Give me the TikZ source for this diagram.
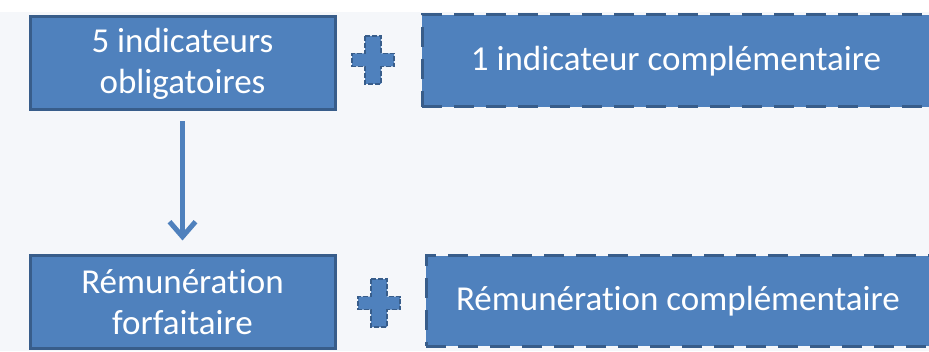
\documentclass[tikz,border=0pt]{standalone}
\usepackage{fontspec}
\setmainfont{Carlito}[Ligatures=NoCommon]
\usetikzlibrary{arrows.meta}
\definecolor{boxfill}{HTML}{4F81BD}
\definecolor{boxline}{HTML}{385D8A}
\definecolor{bg}{HTML}{F5F7FA}
\tikzset{
  solidbox/.style={draw=boxline, fill=boxfill, line width=3pt, text=white, align=center, inner sep=0pt, font=\fontsize{35}{41}\selectfont},
  dashbox/.style={solidbox, dash pattern=on 20pt off 12pt},
  plussign/.style={draw=boxline, fill=boxfill, line width=1.5pt, dash pattern=on 5pt off 2pt},
  flow/.style={draw=boxfill, line width=4.5pt, -{Straight Barb[length=15pt,width=26pt,line width=5pt]}}
}
\begin{document}
\begin{tikzpicture}[x=1pt,y=1pt]
\useasboundingbox (0,0) rectangle (929,351);
\fill[bg] (0,0) rectangle (929,339);
\node[solidbox, minimum width=305pt, minimum height=93pt] (a) at (182.5,287.5) {5 indicateurs\\obligatoires};
\node[dashbox, minimum width=508pt, minimum height=92pt] (b) at (676,290) {1 indicateur complémentaire};
\node[solidbox, minimum width=305pt, minimum height=92pt] (c) at (182.5,49) {Rémunération\\forfaitaire};
\node[dashbox, minimum width=504pt, minimum height=90pt] (d) at (678,50) {Rémunération complémentaire};
\foreach \cx/\cy in {373/291, 379/48}{
  \draw[plussign] (\cx-8,\cy+24) -- (\cx+8,\cy+24) -- (\cx+8,\cy+6.5) -- (\cx+21,\cy+6.5) -- (\cx+21,\cy-6.5) -- (\cx+8,\cy-6.5) -- (\cx+8,\cy-24) -- (\cx-8,\cy-24) -- (\cx-8,\cy-6.5) -- (\cx-21,\cy-6.5) -- (\cx-21,\cy+6.5) -- (\cx-8,\cy+6.5) -- cycle;
}
\draw[flow, shorten <=10pt, shorten >=14pt] (a.south) -- (c.north);
\end{tikzpicture}
\end{document}
